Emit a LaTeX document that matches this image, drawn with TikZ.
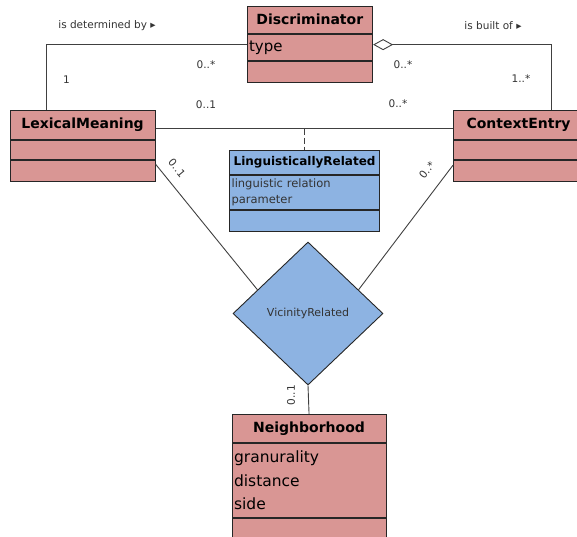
\documentclass[tikz,border=0pt]{standalone}
\usepackage{fontspec}
\setmainfont{DejaVu Sans}
\usetikzlibrary{arrows.meta,positioning,shapes.geometric,calc}
\definecolor{classred}{RGB}{217,150,148}
\definecolor{classblue}{RGB}{141,179,226}
\definecolor{edge}{RGB}{38,38,38}
\definecolor{wire}{RGB}{64,64,64}
\definecolor{lbl}{RGB}{51,51,51}

\begin{document}
\begin{tikzpicture}[x=1pt,y=-1pt,
  head/.style={draw=edge,line width=1.1pt,fill=classred,inner sep=0pt,anchor=north west,
               font=\fontsize{14}{16}\selectfont\bfseries},
  attr/.style={head,font=\fontsize{15}{18}\selectfont,align=left,inner xsep=2pt},
  blank/.style={head,font=\normalsize},
  wire/.style={draw=wire,line width=0.9pt},
  mult/.style={text=lbl,font=\fontsize{10.5}{12}\selectfont,inner sep=0pt}]
\useasboundingbox (0,0) rectangle (577,536);
\clip (0,0) rectangle (577,536);

% classes
\node[head,minimum width=125.5pt,minimum height=27pt] (discH) at (246.5,5.5) {Discriminator};
\node[attr,text width=121.5pt,minimum height=26.5pt] (discA) at (discH.south west) {type};
\node[blank,minimum width=125.5pt,minimum height=21pt] (discO) at (discA.south west) {};

\node[head,minimum width=145pt,minimum height=29pt] (lexH) at (9.5,110) {LexicalMeaning};
\node[blank,minimum width=145pt,minimum height=19pt] (lexA) at (lexH.south west) {};
\node[blank,minimum width=145pt,minimum height=21pt] (lexO) at (lexA.south west) {};

\node[head,minimum width=130pt,minimum height=29pt] (ctxH) at (453,110) {ContextEntry};
\node[blank,minimum width=130pt,minimum height=19pt] (ctxA) at (ctxH.south west) {};
\node[blank,minimum width=130pt,minimum height=21pt] (ctxO) at (ctxA.south west) {};

\node[head,fill=classblue,font=\fontsize{12}{14}\selectfont\bfseries,
      minimum width=150pt,minimum height=23.5pt] (lingH) at (229,150) {LinguisticallyRelated};
\node[attr,fill=classblue,font=\fontsize{11.5}{15.5}\selectfont,text=lbl,
      text width=146pt,minimum height=34.5pt] (lingA) at (lingH.south west)
      {linguistic relation\\parameter};
\node[blank,fill=classblue,minimum width=150pt,minimum height=21pt] (lingO) at (lingA.south west) {};

\node[head,minimum width=154pt,minimum height=27.5pt] (nbH) at (231.5,414) {Neighborhood};
\node[attr,font=\fontsize{15.5}{23.5}\selectfont,text width=150pt,minimum height=74.5pt]
      (nbA) at (nbH.south west) {granurality\\distance\\side};
\node[blank,minimum width=154pt,minimum height=21pt] (nbO) at (nbA.south west) {};

% association class
\node[diamond,draw=edge,line width=0.9pt,fill=classblue,minimum width=150pt,minimum height=143pt,
      inner sep=0pt,text=lbl,font=\fontsize{11}{13}\selectfont] (vr) at (308,313.5) {VicinityRelated};

% connectors
\coordinate (assoc) at ($(lexH.north east)!0.62!(lexH.south east)$);
\draw[wire] (assoc) -- (assoc -| ctxH.west);
\draw[wire,dash pattern=on 6pt off 3pt] (assoc -| lingH.north) -- (lingH.north);
\draw[wire] ($(discA.north west)!0.4!(discA.south west)$) -| ($(lexH.north west)!0.25!(lexH.north east)$);
\draw[wire,{Diamond[open,length=20pt,width=11pt]}-]
  ($(discA.north east)!0.4!(discA.south east)$) -| ($(ctxH.north west)!0.75!(ctxH.north east)$);
\draw[wire] ([yshift=-4pt]lexO.north east) -- ($(vr.north)!0.67!(vr.west)$);
\draw[wire] ([yshift=-5pt]ctxO.north west) -- ($(vr.north)!0.67!(vr.east)$);
\draw[wire] (vr.south) -- (nbH.north);

% roles and multiplicities
\node[mult] (detBy) at (107,25.5) {is determined by ▸};
\node[mult] (builtOf) at (493,25.5) {is built of ▸};
\node[mult] (mLexDisc) at (66.5,80) {1};
\node[mult] (mDiscLex) at (206,64.5) {0..*};
\node[mult] (mDiscCtx) at (403,65) {0..*};
\node[mult] (mCtxDisc) at (521,79) {1..*};
\node[mult] (mLexLing) at (206,104.5) {0..1};
\node[mult] (mCtxLing) at (398,104) {0..*};
\node[mult,rotate=-50] (mLexVr) at (177,168) {0..1};
\node[mult,rotate=53] (mCtxVr) at (427,170) {0..*};
\node[mult,rotate=90] (mNbVr) at (291,395) {0..1};
\end{tikzpicture}
\end{document}
